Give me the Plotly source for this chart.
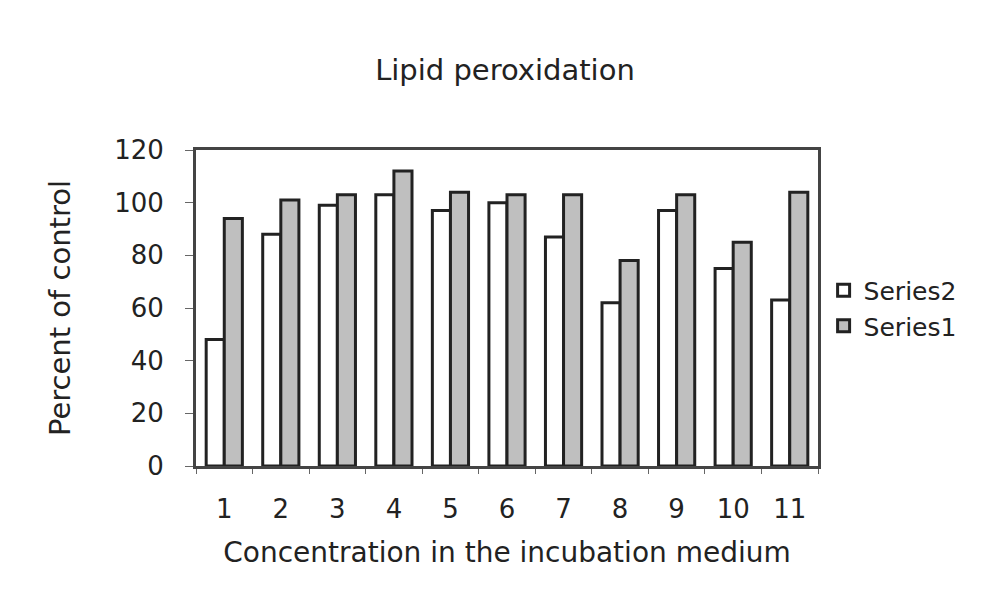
import plotly.graph_objects as go

categories = ["1", "2", "3", "4", "5", "6", "7", "8", "9", "10", "11"]
series2 = [48, 88, 99, 103, 97, 100, 87, 62, 97, 75, 63]
series1 = [94, 101, 103, 112, 104, 103, 103, 78, 103, 85, 104]
y_ticks = [0, 20, 40, 60, 80, 100, 120]

FONT = "DejaVu Sans"
fig = go.Figure()
fig.add_trace(go.Bar(x=categories, y=series2, name="Series2",
                     marker=dict(color="white", line=dict(color="#222", width=3))))
fig.add_trace(go.Bar(x=categories, y=series1, name="Series1",
                     marker=dict(color="#bfbfbf", line=dict(color="#222", width=3))))

fig.update_layout(
    width=988, height=597,
    paper_bgcolor="white", plot_bgcolor="white",
    margin=dict(l=188, r=178, t=142, b=139, autoexpand=False),
    barmode="group", bargap=0.36, bargroupgap=0,
    font=dict(family=FONT, color="#222", size=26),
    title=dict(text="Lipid peroxidation", x=0.503, xanchor="center", y=0.896, yanchor="middle",
               font=dict(family=FONT, size=29, color="#222")),
    legend=dict(x=1.009, xanchor="left", y=0.50, yanchor="middle",
                font=dict(family=FONT, size=25, color="#222"),
                traceorder="normal", bgcolor="rgba(0,0,0,0)", itemwidth=30),
    showlegend=True,
)
fig.update_xaxes(type="category", showline=True, mirror=True, linewidth=3, linecolor="#444",
                 ticks="outside", tickson="boundaries", ticklen=5, tickcolor="#666",
                 tickfont=dict(size=26), ticklabelstandoff=18, automargin=False,
                 title=dict(text="Concentration in the incubation medium", standoff=20,
                            font=dict(size=28)),
                 showgrid=False)
fig.update_yaxes(range=[0, 120], tickvals=y_ticks, showline=True, mirror=True, linewidth=3,
                 linecolor="#444", ticks="outside", ticklen=8, tickcolor="#666",
                 tickfont=dict(size=26), ticklabelstandoff=16, automargin=False,
                 title=dict(text="Percent of control", standoff=36, font=dict(size=29)),
                 showgrid=False, zeroline=False)
fig.write_html("out.html")
